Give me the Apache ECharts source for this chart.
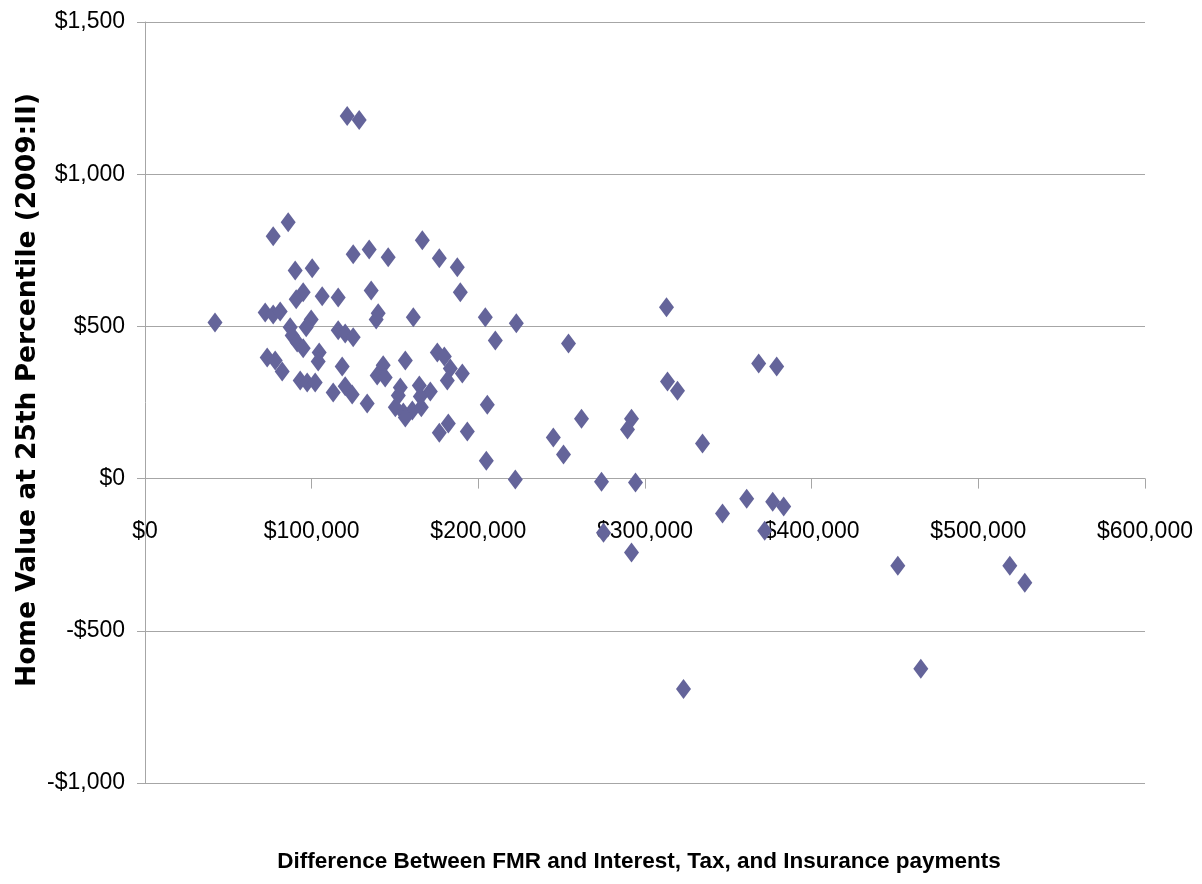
<!DOCTYPE html>
<html>
<head>
<meta charset="utf-8">
<title>Home Value vs. Payment Difference</title>
<script src="https://cdn.jsdelivr.net/npm/echarts@6/dist/echarts.min.js"></script>
<style>
  html, body { margin: 0; padding: 0; background: #ffffff; }
  #chart { width: 1202px; height: 884px; }
</style>
</head>
<body>
<div id="chart"></div>
<script>
// Difference between FMR and interest/tax/insurance payments (dollars)
const paymentDiff = [
  42000, 121300, 128500, 85900, 76900, 90100, 100300, 124900, 134500, 145900,
  166400, 176600, 187400, 189200, 135700, 94900, 90700, 106300, 115900, 72100,
  76900, 81100, 87100, 99700, 96700, 115900, 120100, 124900, 88300, 91300,
  94900, 73300, 78100, 82300, 104500, 103900, 118300, 93100, 97300, 102100,
  112900, 120100, 124300, 133300, 139900, 138700, 161000, 204200, 222800, 210200,
  254100, 142900, 139300, 144100, 156200, 175400, 179600, 183200, 181400, 190400,
  153200, 164600, 171200, 165200, 152000, 150200, 155000, 160400, 165800, 156200,
  205400, 182000, 176600, 193400, 204800, 222200, 261900, 245000, 251100, 291900,
  289500, 312900, 313500, 319500, 368200, 379000, 334500, 273900, 294300, 346500,
  361000, 376600, 383200, 371800, 275100, 291900, 323100, 451700, 465500, 518900,
  527900
];

// Home value at 25th percentile, 2009:II (dollars)
const homeValue25 = [
  513, 1191, 1178, 842, 796, 684, 691, 737, 753, 727,
  783, 724, 694, 612, 618, 612, 589, 599, 595, 546,
  539, 549, 497, 523, 497, 487, 477, 464, 470, 447,
  428, 398, 388, 352, 414, 385, 368, 322, 316, 316,
  283, 303, 276, 247, 543, 523, 530, 530, 510, 454,
  444, 372, 339, 332, 388, 414, 401, 362, 322, 345,
  299, 306, 286, 270, 273, 234, 217, 224, 234, 201,
  243, 181, 151, 155, 59, -3, 197, 135, 79, 197,
  161, 563, 319, 289, 378, 368, 115, -10, -13, -115,
  -66, -76, -92, -171, -178, -243, -691, -286, -625, -286,
  -342
];

const xTicks = [0, 100000, 200000, 300000, 400000, 500000, 600000];
const yTicks = [-1000, -500, 0, 500, 1000, 1500];

const xTitle = 'Difference Between FMR and Interest, Tax, and Insurance payments';
const yTitle = 'Home Value at 25th Percentile (2009:II)';

function money(v) {
  const s = Math.abs(v).toLocaleString('en-US');
  return (v < 0 ? '-$' : '$') + s;
}

const points = paymentDiff.map((x, i) => [x, homeValue25[i]]);

const tickFont = '"Liberation Sans", Arial, sans-serif';
const gridColor = '#a6a6a6';

const chart = echarts.init(document.getElementById('chart'), null, { renderer: 'canvas' });

chart.setOption({
  backgroundColor: '#ffffff',
  animation: false,
  grid: {
    left: 145, right: 57, top: 22, bottom: 101,
    containLabel: false,
    outerBoundsMode: 'none'
  },
  xAxis: {
    type: 'value',
    min: xTicks[0],
    max: xTicks[xTicks.length - 1],
    interval: xTicks[1] - xTicks[0],
    position: 'bottom',
    axisLine: { show: true, onZero: true, lineStyle: { color: gridColor, width: 1 } },
    axisTick: { show: true, length: 10, lineStyle: { color: gridColor, width: 1 } },
    splitLine: { show: false },
    axisLabel: {
      // labels sit a little below the zero line, not at the bottom of the plot
      margin: -263,
      color: '#000000',
      fontSize: 23,
      fontFamily: tickFont,
      formatter: money,
      showMinLabel: true,
      showMaxLabel: true
    }
  },
  yAxis: {
    type: 'value',
    min: yTicks[0],
    max: yTicks[yTicks.length - 1],
    interval: yTicks[1] - yTicks[0],
    axisLine: { show: true, onZero: false, lineStyle: { color: gridColor, width: 1 } },
    axisTick: { show: true, length: 8, lineStyle: { color: gridColor, width: 1 } },
    splitLine: { show: true, lineStyle: { color: gridColor, width: 1 } },
    axisLabel: {
      margin: 20,
      color: '#000000',
      fontSize: 23,
      fontFamily: tickFont,
      formatter: money
    }
  },
  graphic: [
    {
      type: 'text',
      x: 639,
      y: 862,
      style: {
        text: xTitle,
        x: 0,
        y: 0,
        align: 'center',
        verticalAlign: 'middle',
        textAlign: 'center',
        textVerticalAlign: 'middle',
        fill: '#000000',
        fontSize: 22.5,
        fontWeight: 'bold',
        fontFamily: tickFont
      }
    },
    {
      type: 'text',
      x: 28,
      y: 390,
      rotation: Math.PI / 2,
      style: {
        text: yTitle,
        x: 0,
        y: 0,
        align: 'center',
        verticalAlign: 'middle',
        textAlign: 'center',
        textVerticalAlign: 'middle',
        fill: '#000000',
        fontSize: 26.5,
        fontWeight: 'bold',
        fontFamily: '"DejaVu Sans", sans-serif'
      }
    }
  ],
  series: [
    {
      type: 'scatter',
      data: points,
      symbol: 'diamond',
      symbolSize: [15, 20],
      itemStyle: { color: '#64649a', opacity: 1 },
      emphasis: { disabled: true }
    }
  ]
});
</script>
</body>
</html>
